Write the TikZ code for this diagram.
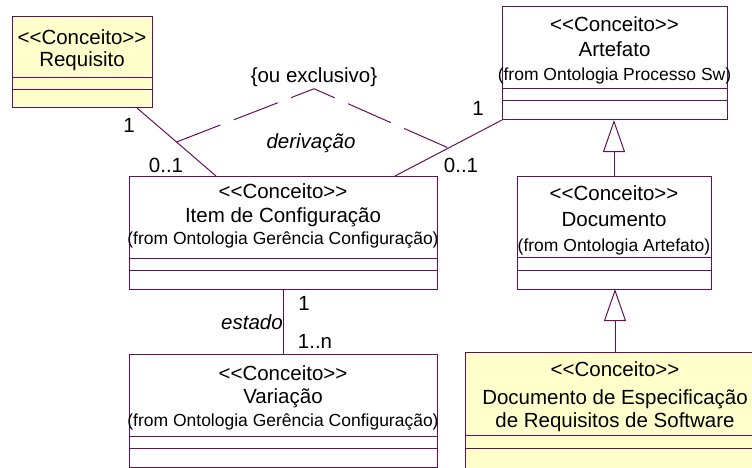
\documentclass[tikz,border=0pt]{standalone}
\usepackage{fontspec}
\setmainfont{Liberation Sans}
\usetikzlibrary{arrows.meta}
\definecolor{roxo}{RGB}{102,16,90}
\definecolor{amarelo}{RGB}{255,255,204}
\begin{document}
\begin{tikzpicture}[x=1pt,y=-1pt,line width=1pt,
    classe/.style={draw=roxo,fill=white,anchor=north west,inner sep=0pt,outer sep=0pt},
    txt/.style={anchor=base,inner sep=0pt,font=\fontsize{20.5}{24}\selectfont},
    de/.style={anchor=base,inner sep=0pt,font=\fontsize{17.5}{20}\selectfont},
    papel/.style={txt,font=\fontsize{20.5}{24}\selectfont\itshape},
    assoc/.style={draw=roxo},
    restricao/.style={draw=roxo,dash pattern=on 47pt off 14.5pt},
    heranca/.style={draw=roxo,-{Triangle[open,length=32pt,width=22pt]}}]
  \useasboundingbox (0,0) rectangle (752,468);
  % classes
  \node[classe,fill=amarelo,minimum width=140pt,minimum height=91pt] (req) at (12,17) {};
  \node[classe,minimum width=225pt,minimum height=113pt] (art) at (502,7) {};
  \node[classe,minimum width=308pt,minimum height=113pt] (item) at (129,176) {};
  \node[classe,minimum width=308pt,minimum height=113pt] (var) at (129,354) {};
  \node[classe,minimum width=194pt,minimum height=113pt] (doc) at (517,176) {};
  \node[classe,fill=amarelo,minimum width=300pt,minimum height=120pt] (ders) at (465,352) {};
  \foreach \c/\a/\b in {req/60/72,art/81/93,item/82/94,var/82/94,doc/81/94,ders/83/96}
    \draw[roxo,line width=.8pt] ([yshift=-\a pt]\c.north west) -- ([yshift=-\a pt]\c.north east)
      ([yshift=-\b pt]\c.north west) -- ([yshift=-\b pt]\c.north east);
  % textos das classes
  \node[txt] (reqE) at ([yshift=-28pt]req.north) {<{}<Conceito>{}>};
  \node[txt] (reqN) at ([yshift=-50pt]req.north) {Requisito};
  \node[txt] (artE) at ([yshift=-25pt]art.north) {<{}<Conceito>{}>};
  \node[txt] (artN) at ([yshift=-50pt]art.north) {Artefato};
  \node[de] (artD) at ([yshift=-74pt]art.north) {(from Ontologia Processo Sw)};
  \node[txt] (itemE) at ([yshift=-22pt]item.north) {<{}<Conceito>{}>};
  \node[txt] (itemN) at ([yshift=-46pt]item.north) {Item de Configuração};
  \node[de] (itemD) at ([yshift=-68pt]item.north) {(from Ontologia Gerência Configuração)};
  \node[txt] (varE) at ([yshift=-26pt]var.north) {<{}<Conceito>{}>};
  \node[txt] (varN) at ([yshift=-49pt]var.north) {Variação};
  \node[de] (varD) at ([yshift=-72pt]var.north) {(from Ontologia Gerência Configuração)};
  \node[txt] (docE) at ([yshift=-24pt]doc.north) {<{}<Conceito>{}>};
  \node[txt] (docN) at ([yshift=-50pt]doc.north) {Documento};
  \node[de] (docD) at ([yshift=-75pt]doc.north) {(from Ontologia Artefato)};
  \node[txt] (dersE) at ([yshift=-24pt]ders.north) {<{}<Conceito>{}>};
  \node[txt] (dersN) at ([yshift=-52pt]ders.north) {Documento de Especificação};
  \node[txt] (dersN2) at ([yshift=-75pt]ders.north) {de Requisitos de Software};
  % associacoes
  \draw[assoc] ([xshift=-15pt]req.south east) -- coordinate (m1) ([xshift=87pt]item.north west);
  \draw[assoc] (art.south west) -- coordinate (m2) ([xshift=266pt]item.north west);
  \draw[assoc] (item.south) -- (var.north);
  \node[txt] (m1a) at (129,133) {1};
  \node[txt] (m1b) at (166,172) {0..1};
  \node[txt] (m2a) at (478,116) {1};
  \node[txt] (m2b) at (461,172) {0..1};
  \node[txt] (m3a) at (304,310) {1};
  \node[txt] (m3b) at (315,348) {1..n};
  \node[papel] (estado) at (252,329) {estado};
  \node[papel] (deriv) at (311,149) {derivação};
  % restricao
  \node[txt] (ouex) at (314,83) {\{ou exclusivo\}};
  \draw[restricao] (m1) -- ([yshift=-1pt]ouex.south) -- (m2);
  % heranca
  \draw[heranca] (doc.north) -- (doc.north |- art.south);
  \draw[heranca] (ders.north) -- (ders.north |- doc.south);
\end{tikzpicture}
\end{document}
